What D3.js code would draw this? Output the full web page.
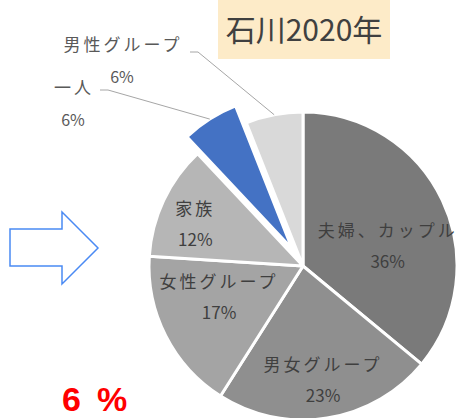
<!DOCTYPE html>
<html>
<head>
<meta charset="utf-8">
<script src="https://cdn.jsdelivr.net/npm/d3@7"></script>
<style>
body { margin: 0; background: #fff; }
text { font-family: "Noto Sans CJK JP", "Noto Sans", sans-serif; }
</style>
</head>
<body>
<script>
// data
var categories = ["夫婦、カップル", "男女グループ", "女性グループ", "家族", "一人", "男性グループ"];
var values = [36, 23, 17, 12, 6, 6];
var colors = ["#7a7a7a", "#8f8f8f", "#a4a4a4", "#b6b6b6", "#4472c4", "#d9d9d9"];
var title = "石川2020年";
var highlight = ["6", "%"];

var width = 457, height = 418;
var cx = 303, cy = 266, r = 154;
var explode = 20; // only the 一人 slice is pulled out

// label placement inside slices: angle nudge (deg) and radius share
var inside = {
  "夫婦、カップル": { da: 12, k: 0.565 },
  "男女グループ": { da: -1, k: 0.75 },
  "女性グループ": { da: 7, k: 0.58 },
  "家族": { da: -4, k: 0.75 }
};
// outside labels (leader lines)
var outside = {
  "一人": { x: 74, y: 88, bend: [108, 90], end: [100, 90] },
  "男性グループ": { x: 123, y: 45, bend: [198, 52], end: [190, 52] }
};

var svg = d3.select("body").append("svg")
  .attr("width", width)
  .attr("height", height);

var pie = d3.pie().sort(null).value(function(d) { return d; });
var arcs = pie(values);
var arc = d3.arc().innerRadius(0).outerRadius(r);

function offset(a, i) {
  if (categories[i] != "一人") return [0, 0];
  var m = (a.startAngle + a.endAngle) / 2;
  return [Math.sin(m) * explode, -Math.cos(m) * explode];
}

var g = svg.append("g").attr("transform", "translate(" + cx + "," + cy + ")");

g.selectAll("path")
  .data(arcs)
  .enter().append("path")
  .attr("transform", function(d, i) { var o = offset(d, i); return "translate(" + o[0] + "," + o[1] + ")"; })
  .attr("d", arc)
  .attr("fill", function(d, i) { return colors[i]; })
  .attr("stroke", "#fff")
  .attr("stroke-width", 3)
  .attr("stroke-linejoin", "round");

// inside labels
arcs.forEach(function(d, i) {
  var c = inside[categories[i]];
  if (!c) return;
  var m = (d.startAngle + d.endAngle) / 2 + c.da * Math.PI / 180;
  var x = Math.sin(m) * r * c.k, y = -Math.cos(m) * r * c.k;
  var t = g.append("text")
    .attr("text-anchor", "middle")
    .attr("fill", "#3f3f3f")
    .attr("font-size", 17);
  t.append("tspan").attr("x", x).attr("y", y - 9).attr("letter-spacing", 3).text(categories[i]);
  t.append("tspan").attr("x", x).attr("y", y + 22).text(values[i] + "%");
});

// outside labels with leader lines
arcs.forEach(function(d, i) {
  var c = outside[categories[i]];
  if (!c) return;
  var m = (d.startAngle + d.endAngle) / 2;
  var o = offset(d, i);
  var px = cx + o[0] + Math.sin(m) * r, py = cy + o[1] - Math.cos(m) * r;
  svg.append("polyline")
    .attr("points", [[px, py], c.bend, c.end].map(function(p) { return p.join(","); }).join(" "))
    .attr("fill", "none")
    .attr("stroke", "#a6a6a6")
    .attr("stroke-width", 1);
  var t = svg.append("text")
    .attr("text-anchor", "middle")
    .attr("fill", "#595959")
    .attr("font-size", 17);
  t.append("tspan").attr("x", c.x).attr("y", c.y + 6).attr("letter-spacing", 3).text(categories[i]);
  t.append("tspan").attr("x", c.x - 1).attr("y", c.y + 38).attr("font-size", 16).text(values[i] + "%");
});

// title box
svg.append("rect")
  .attr("x", 218).attr("y", 0)
  .attr("width", 172).attr("height", 59)
  .attr("fill", "#fdebc8");
svg.append("text")
  .attr("x", 304).attr("y", 41)
  .attr("text-anchor", "middle")
  .attr("font-size", 30)
  .attr("fill", "#404040")
  .text(title);

// arrow
svg.append("path")
  .attr("d", "M10,229 L62,229 L62,212 L98,248 L62,284 L62,266 L10,266 Z")
  .attr("fill", "#fff")
  .attr("stroke", "#4a8af4")
  .attr("stroke-width", 1.5);

// red note
var note = svg.append("text")
  .attr("y", 411)
  .style("font-family", "'Liberation Sans', Arial, sans-serif")
  .attr("font-weight", "bold")
  .attr("font-size", 34)
  .attr("fill", "#ff0000");
note.append("tspan").attr("x", 62).text(highlight[0]);
note.append("tspan").attr("x", 97).text(highlight[1]);
</script>
</body>
</html>
